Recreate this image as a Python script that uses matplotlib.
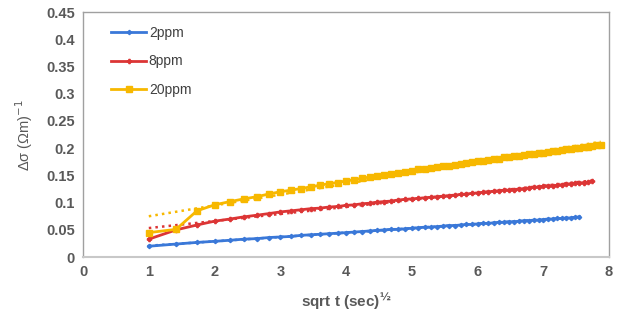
import numpy as np
import matplotlib
matplotlib.use("Agg")
import matplotlib.pyplot as plt

plt.rcParams['font.family'] = ['Liberation Sans', 'DejaVu Sans']

# measurement times (s), x axis is sqrt(t)
t_2ppm = np.arange(1, 58)
t_8ppm = np.arange(1, 61)
t_20ppm = np.arange(1, 63)

ds_2ppm = [0.020, 0.024, 0.027, 0.029, 0.031, 0.033, 0.034, 0.036, 0.037, 0.038,
           0.040, 0.041, 0.042, 0.043, 0.044, 0.045, 0.046, 0.047, 0.048, 0.049,
           0.050, 0.051, 0.051, 0.052, 0.053, 0.054, 0.055, 0.055, 0.056, 0.057,
           0.058, 0.058, 0.059, 0.060, 0.060, 0.061, 0.062, 0.062, 0.063, 0.064,
           0.064, 0.065, 0.065, 0.066, 0.067, 0.067, 0.068, 0.068, 0.069, 0.070,
           0.070, 0.071, 0.071, 0.072, 0.072, 0.073, 0.074]

ds_8ppm = [0.033, 0.050, 0.059, 0.066, 0.070, 0.074, 0.077, 0.080, 0.083, 0.085,
           0.087, 0.089, 0.090, 0.092, 0.093, 0.095, 0.096, 0.098, 0.099, 0.101,
           0.102, 0.103, 0.105, 0.106, 0.107, 0.108, 0.109, 0.110, 0.111, 0.112,
           0.113, 0.114, 0.115, 0.116, 0.117, 0.118, 0.119, 0.120, 0.121, 0.122,
           0.123, 0.123, 0.124, 0.125, 0.126, 0.127, 0.128, 0.129, 0.130, 0.131,
           0.131, 0.132, 0.133, 0.134, 0.135, 0.136, 0.136, 0.137, 0.138, 0.139]

ds_20ppm = [0.045, 0.051, 0.085, 0.096, 0.102, 0.107, 0.111, 0.116, 0.120, 0.123,
            0.126, 0.129, 0.132, 0.135, 0.137, 0.140, 0.142, 0.145, 0.147, 0.149,
            0.151, 0.153, 0.155, 0.157, 0.159, 0.161, 0.162, 0.164, 0.165, 0.167,
            0.168, 0.170, 0.171, 0.173, 0.175, 0.176, 0.177, 0.179, 0.180, 0.181,
            0.183, 0.184, 0.185, 0.186, 0.187, 0.189, 0.190, 0.191, 0.192, 0.193,
            0.194, 0.195, 0.197, 0.198, 0.199, 0.200, 0.201, 0.202, 0.203, 0.204,
            0.205, 0.206]

labels = ['2ppm', '8ppm', '20ppm']
colors = ['#3a78d8', '#dc3535', '#f7b800']

fig = plt.figure(figsize=(6.34, 3.21), dpi=100)
ax = fig.add_axes([0.131, 0.199, 0.8296, 0.7634])

series = [(t_2ppm, ds_2ppm), (t_8ppm, ds_8ppm), (t_20ppm, ds_20ppm)]
markers = [('D', 2.2), ('P', 3.0), ('s', 4.0)]

for (t, ds), lab, c, (m, ms) in zip(series, labels, colors, markers):
    x = np.sqrt(t)
    # linear trendline (drawn first, under the data)
    k, b = np.polyfit(x, ds, 1)
    ax.plot(x, k * x + b, ':', color=c, lw=1.8, zorder=2)
    ax.plot(x, ds, color=c, lw=2, marker=m, ms=ms, label=lab, zorder=3)

ax.set_xlim(0, 8)
ax.set_ylim(0, 0.45)
ax.set_xticks(range(0, 9))
ax.set_yticks(np.arange(0, 0.451, 0.05))
ax.set_yticklabels(['0', '0.05', '0.1', '0.15', '0.2', '0.25', '0.3', '0.35', '0.4', '0.45'])

for s in ax.spines.values():
    s.set_color('#a0a0a0')
    s.set_linewidth(1)
ax.spines['bottom'].set_color('#c8c8c8')
ax.spines['bottom'].set_linewidth(1.5)
ax.tick_params(length=0, labelsize=10.5, labelcolor='#595959', pad=6)
for lbl in ax.get_xticklabels() + ax.get_yticklabels():
    lbl.set_fontweight('bold')

ax.set_xlabel('sqrt t (sec)$^{\\mathbf{\u00bd}}$', fontsize=11, color='#595959',
              fontweight='bold', labelpad=8)
ax.set_ylabel('\u0394\u03c3 (\u03a9m)$^{-1}$', fontsize=10.5, color='#595959',
              labelpad=8)

ax.legend(loc='upper left', bbox_to_anchor=(0.03, 0.995), frameon=False,
          fontsize=10, handlelength=2.5, handletextpad=0.2, labelspacing=1.05,
          labelcolor='#404040')

fig.savefig('out.png', dpi=100)
